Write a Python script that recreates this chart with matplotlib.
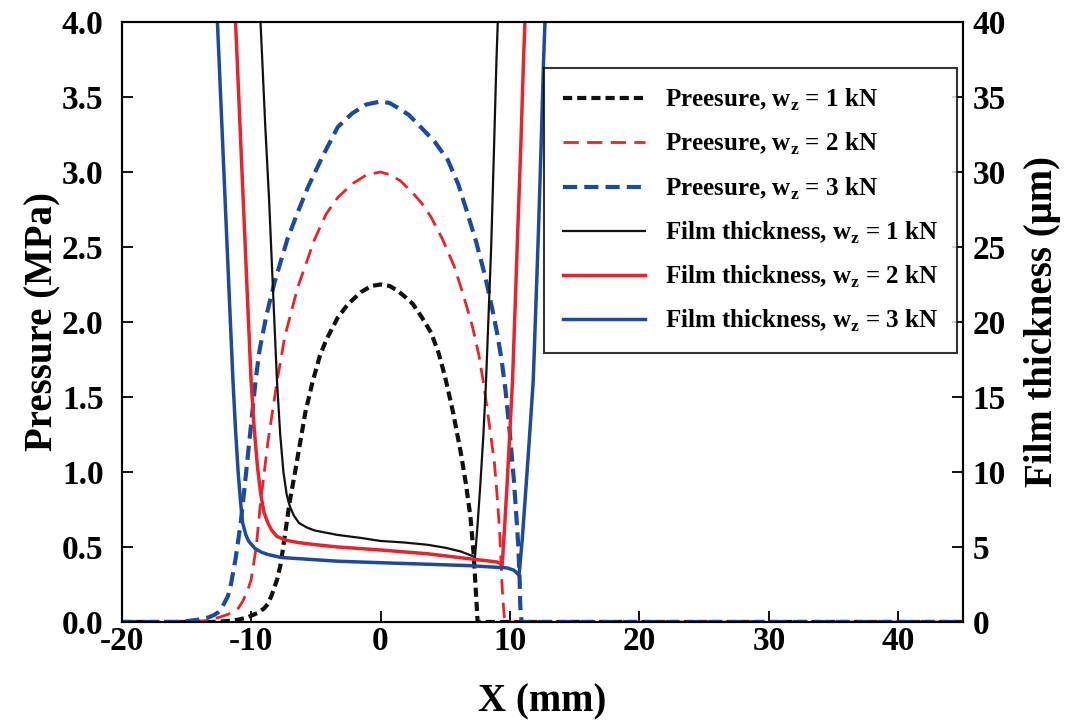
import matplotlib
matplotlib.use("Agg")
import matplotlib.pyplot as plt
from matplotlib.lines import Line2D

plt.rcParams["font.family"] = ["Liberation Serif", "DejaVu Serif"]
plt.rcParams["font.weight"] = "bold"
plt.rcParams["axes.unicode_minus"] = False
plt.rcParams["mathtext.fontset"] = "custom"
plt.rcParams["mathtext.rm"] = "Liberation Serif:bold"
plt.rcParams["mathtext.bf"] = "Liberation Serif:bold"

# Pressure (MPa) vs X (mm)
x_p1 = [-20, -13, -12, -11, -10.3, -9.5, -9.0, -8.7, -8.4, -8.0, -7.7, -7.35, -7.0, -6.6,
        -6.2, -5.8, -5.25, -4.7, -4.2, -3.3, -2.5, -1.5, -0.7, 0, 0.7, 1.3, 2.0, 2.5, 3.2,
        3.9, 4.5, 5.0, 5.6, 6.2, 6.6, 6.95, 7.2, 7.35, 7.45, 7.5, 45]
p1 = [0, 0, 0.005, 0.015, 0.03, 0.06, 0.09, 0.12, 0.18, 0.28, 0.39, 0.6, 0.81, 1.0,
      1.2, 1.4, 1.6, 1.77, 1.88, 2.03, 2.12, 2.2, 2.24, 2.25, 2.24, 2.21, 2.16, 2.12, 2.03,
      1.93, 1.79, 1.63, 1.4, 1.13, 0.92, 0.7, 0.45, 0.23, 0.08, 0, 0]

x_p2 = [-20, -14.5, -13.5, -12.5, -11.8, -11.3, -11.0, -10.7, -10.3, -10.0, -9.6, -9.3,
        -8.7, -8.0, -7.4, -6.4, -5.1, -4.2, -3.3, -2.2, -1.1, 0, 0.8, 1.55, 2.5, 3.2, 3.9,
        4.8, 5.7, 6.4, 7.1, 7.6, 8.0, 8.4, 8.8, 9.0, 9.2, 9.3, 9.4, 9.5, 9.6, 45]
p2 = [0, 0, 0.01, 0.03, 0.05, 0.07, 0.09, 0.13, 0.2, 0.28, 0.5, 0.77,
      1.2, 1.6, 1.9, 2.23, 2.55, 2.72, 2.83, 2.92, 2.98, 3.0, 2.98, 2.94, 2.86, 2.79, 2.7,
      2.55, 2.37, 2.18, 1.97, 1.78, 1.57, 1.32, 1.06, 0.85, 0.61, 0.42, 0.23, 0.1, 0, 0]

x_p3 = [-20, -16, -15, -14.1, -13.3, -12.9, -12.6, -12.3, -12.1, -11.8, -11.6, -11.2,
        -10.8, -10.5, -10.2, -9.65, -9.35, -8.8, -8.2, -7.2, -6.4, -5.6, -4.5, -3.3, -2.2,
        -1.1, 0, 0.7, 1.3, 2.2, 3.1, 4.2, 5.2, 6.0, 6.7, 7.4, 8.1, 8.6, 9.0, 9.35, 9.65,
        10.0, 10.3, 10.5, 10.65, 10.75, 10.8, 10.9, 45]
p3 = [0, 0, 0.005, 0.015, 0.03, 0.045, 0.06, 0.09, 0.12, 0.17, 0.23, 0.42,
      0.66, 0.9, 1.15, 1.61, 1.81, 2.05, 2.26, 2.55, 2.73, 2.9, 3.1, 3.3, 3.39,
      3.45, 3.47, 3.46, 3.43, 3.38, 3.3, 3.2, 3.08, 2.92, 2.73, 2.53, 2.3, 2.1, 1.93, 1.75, 1.55,
      1.25, 0.95, 0.7, 0.5, 0.28, 0.1, 0, 0]

# Film thickness (um) vs X (mm)
x_h1 = [-9.35, -9.27, -8.9, -8.6, -8.3, -8.0, -7.75, -7.5, -7.25, -7.0, -6.7, -6.3, -5.7,
        -5.1, -4.2, -3.3, -1.5, 0, 1.8, 3.6, 5.0, 6.2, 6.8, 7.1, 7.3, 7.5, 7.7, 7.95, 8.15,
        8.35, 8.55, 8.75, 8.96, 9.1]
h1 = [42, 40, 33, 28, 22, 16.1, 12.5, 10.0, 8.5, 7.7, 7.1, 6.6, 6.3,
      6.1, 5.95, 5.8, 5.6, 5.4, 5.3, 5.15, 4.95, 4.7, 4.5, 4.4, 4.3, 6.5, 9, 12.5, 16,
      20.5, 25, 31, 37.5, 41]

x_h2 = [-11.3, -11.2, -10.9, -10.6, -10.3, -10.0, -9.75, -9.5, -9.25, -9.0, -8.7, -8.4,
        -8.0, -7.3, -6.4, -5.0, -3.3, 0, 3.6, 7.0, 9.0, 9.25, 9.4, 9.6, 9.8, 10.0, 10.2,
        10.4, 10.6, 10.85, 11.05, 11.2]
h2 = [42, 40, 34, 28, 22, 16.1, 12.8, 10.3, 8.5, 7.3, 6.6, 6.1,
      5.7, 5.45, 5.3, 5.15, 5.0, 4.8, 4.55, 4.2, 4.0, 3.9, 3.8, 6.5, 9.5, 12.8, 16.1,
      21, 26, 32, 37.5, 41]

x_h3 = [-12.7, -12.6, -12.3, -12.0, -11.7, -11.4, -11.2, -11.0, -10.8, -10.65, -10.4,
        -10.2, -9.9, -9.7, -9.2, -8.7, -7.7, -3.3, 0, 3.6, 7.0, 9.8, 10.3, 10.55, 10.7,
        10.95, 11.2, 11.5, 11.8, 12.0, 12.2, 12.4, 12.6, 12.75]
h3 = [42, 40, 34, 28, 22, 16.1, 12.8, 10, 7.9, 6.6, 5.8,
      5.4, 5.1, 4.9, 4.65, 4.5, 4.3, 4.05, 3.95, 3.85, 3.75, 3.6, 3.45, 3.25, 3.1,
      5.5, 8.5, 12.2, 16.1, 21, 26, 31.5, 37.5, 41]

labels = [
    r"Preesure, w$_\mathregular{z}$ = 1 kN",
    r"Preesure, w$_\mathregular{z}$ = 2 kN",
    r"Preesure, w$_\mathregular{z}$ = 3 kN",
    r"Film thickness, w$_\mathregular{z}$ = 1 kN",
    r"Film thickness, w$_\mathregular{z}$ = 2 kN",
    r"Film thickness, w$_\mathregular{z}$ = 3 kN",
]

BLACK = "#111111"
RED = "#e8232b"
BLUE = "#1d4a9a"
DASH_1 = (2.2, 1.2)
DASH_2 = (5.5, 3)
DASH_3 = (3.4, 1.7)

fig = plt.figure(figsize=(10.67, 7.26), dpi=100)
ax = fig.add_axes([0.114, 0.1433, 0.7885, 0.8264])
ax2 = ax.twinx()

ax.plot(x_p1, p1, color=BLACK, lw=3, dashes=DASH_1)
ax.plot(x_p2, p2, color=RED, lw=2, dashes=DASH_2)
ax.plot(x_p3, p3, color=BLUE, lw=3, dashes=DASH_3)

ax2.plot(x_h1, h1, color=BLACK, lw=1.6)
ax2.plot(x_h2, h2, color=RED, lw=2.5)
ax2.plot(x_h3, h3, color=BLUE, lw=2.5)

ax.set_xlim(-20, 45)
ax.set_ylim(0, 4.0)
ax2.set_ylim(0, 40)
ax.set_xticks(range(-20, 41, 10))
ax.set_yticks([i * 0.5 for i in range(9)])
ax.set_yticklabels([f"{i * 0.5:.1f}" for i in range(9)])
ax2.set_yticks(range(0, 41, 5))

for a in (ax, ax2):
    a.tick_params(direction="in", length=8, width=1.3, labelsize=24)
    for s in a.spines.values():
        s.set_linewidth(1.5)
ax.tick_params(axis="y", pad=13)
ax.tick_params(axis="x", pad=3)
ax2.tick_params(axis="y", pad=7)

ax.set_xlabel("X (mm)", fontsize=28, fontweight="bold", labelpad=19)
ax.set_ylabel("Pressure (MPa)", fontsize=28, fontweight="bold", labelpad=0)
ax2.set_ylabel("Film thickness (\u03bcm)", fontsize=28, fontweight="bold", labelpad=13)

handles = [
    Line2D([], [], color=BLACK, lw=3, dashes=DASH_1),
    Line2D([], [], color=RED, lw=2, dashes=DASH_2),
    Line2D([], [], color=BLUE, lw=3, dashes=DASH_3),
    Line2D([], [], color=BLACK, lw=1.6),
    Line2D([], [], color=RED, lw=2.5),
    Line2D([], [], color=BLUE, lw=2.5),
]
leg = ax2.legend(handles, labels, loc="upper right", bbox_to_anchor=(0.993, 0.923),
                 borderaxespad=0, fontsize=18, frameon=True, fancybox=False,
                 edgecolor="black", handlelength=3.3, labelspacing=0.72, borderpad=0.75,
                 handletextpad=0.8)
leg.get_frame().set_linewidth(1.5)

fig.savefig("out.png", dpi=100)
